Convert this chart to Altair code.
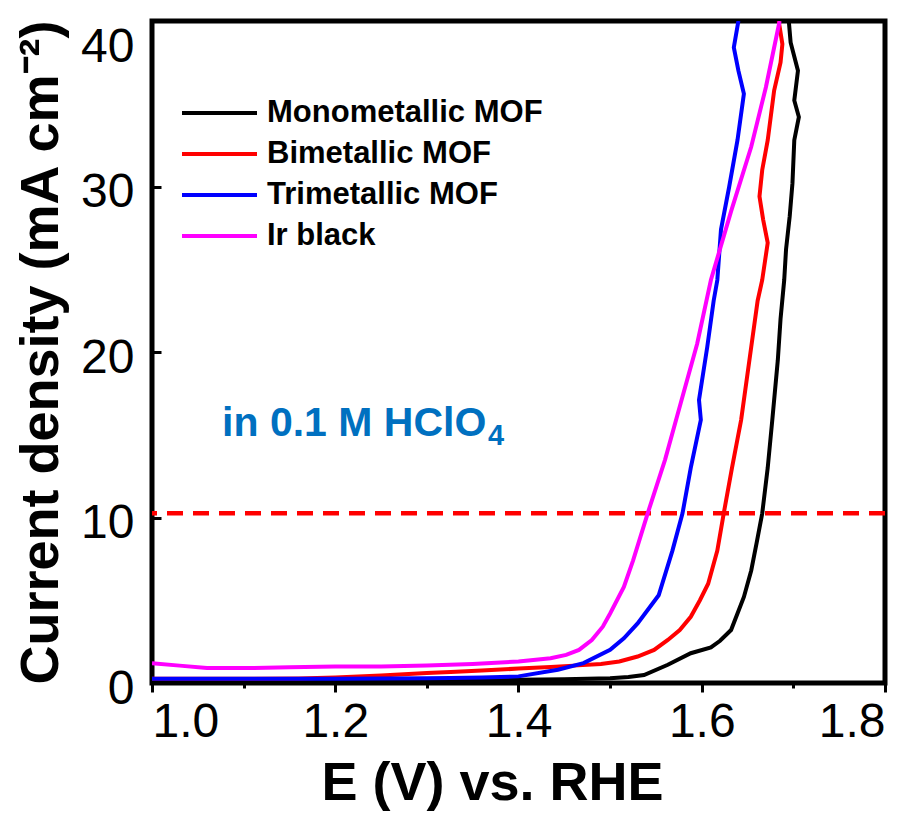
import altair as alt
import pandas as pd

# Linear sweep voltammetry (OER) in 0.1 M HClO4: potential (V vs. RHE) and current density (mA cm^-2)
mono_E = [1.00, 1.10, 1.20, 1.30, 1.40, 1.45, 1.50, 1.52, 1.537, 1.563, 1.588, 1.610, 1.620,
          1.632, 1.639, 1.646, 1.654, 1.660, 1.666, 1.672, 1.677, 1.683, 1.686, 1.690, 1.692,
          1.696, 1.699, 1.701, 1.706, 1.701, 1.705, 1.697, 1.695]
mono_j = [0.20, 0.20, 0.20, 0.20, 0.20, 0.22, 0.28, 0.36, 0.48, 1.10, 1.80, 2.15, 2.55,
          3.20, 4.20, 5.20, 6.80, 8.50, 10.25, 13.0, 15.9, 19.5, 22.0, 24.35, 26.2,
          28.2, 30.2, 32.8, 34.2, 35.2, 37.0, 38.7, 40.0]

bi_E = [1.00, 1.10, 1.16, 1.20, 1.25, 1.30, 1.326, 1.36, 1.40, 1.435, 1.46, 1.49, 1.51, 1.53,
        1.548, 1.563, 1.576, 1.588, 1.598, 1.607, 1.617, 1.624, 1.633, 1.643, 1.654, 1.661,
        1.666, 1.672, 1.667, 1.663, 1.666, 1.672, 1.679, 1.686, 1.688, 1.684]
bi_j = [0.25, 0.25, 0.27, 0.33, 0.45, 0.60, 0.66, 0.76, 0.87, 0.97, 1.05, 1.15, 1.30, 1.60,
        2.00, 2.60, 3.20, 4.00, 5.00, 6.00, 8.00, 10.25, 13.0, 15.9, 20.3, 23.1,
        24.35, 26.6, 28.0, 29.4, 31.0, 32.8, 35.8, 37.5, 38.6, 40.0]

tri_E = [1.00, 1.10, 1.20, 1.30, 1.326, 1.36, 1.40, 1.443, 1.471, 1.50, 1.515, 1.530, 1.553,
         1.568, 1.579, 1.588, 1.599, 1.597, 1.606, 1.613, 1.617, 1.621, 1.630, 1.639, 1.646,
         1.640, 1.635, 1.640]
tri_j = [0.25, 0.25, 0.25, 0.28, 0.30, 0.33, 0.40, 0.80, 1.20, 2.00, 2.70, 3.60, 5.30,
         8.00, 10.25, 13.0, 15.9, 17.1, 20.3, 23.1, 24.35, 27.4, 30.0, 32.8, 35.6,
         37.0, 38.4, 40.0]

ir_E = [1.00, 1.03, 1.06, 1.10, 1.15, 1.20, 1.25, 1.30, 1.35, 1.40, 1.435, 1.452, 1.466,
        1.48, 1.492, 1.50, 1.515, 1.525, 1.541, 1.56, 1.577, 1.595, 1.610, 1.632, 1.654, 1.670, 1.685]
ir_j = [1.20, 1.05, 0.90, 0.90, 0.95, 1.00, 1.00, 1.05, 1.15, 1.30, 1.50, 1.70, 2.00,
        2.60, 3.40, 4.20, 5.80, 7.40, 10.25, 13.5, 16.9, 20.5, 24.35, 28.5, 32.4, 36.0, 40.0]

series_names = ["Monometallic MOF", "Bimetallic MOF", "Trimetallic MOF", "Ir black"]
series_colors = ["#000000", "#FF0000", "#0000FF", "#FF00FF"]
series_data = [(mono_E, mono_j), (bi_E, bi_j), (tri_E, tri_j), (ir_E, ir_j)]

x_ticks = [1.0, 1.1, 1.2, 1.3, 1.4, 1.5, 1.6, 1.7, 1.8]
y_ticks = [0, 10, 20, 30, 40]
ref_current = 10.25          # dashed benchmark line (10 mA cm^-2)
note_main = "in 0.1 M HClO"
note_sub = "4"
note_pos = (1.0765, 14.9)

rows = []
for name, (es, js) in zip(series_names, series_data):
    for i, (e, j) in enumerate(zip(es, js)):
        rows.append({"series": name, "E": e, "j": j, "idx": i})
df = pd.DataFrame(rows)

FONT = "Liberation Sans"
NOTE_COLOR = "#0070C0"
major = "round(datum.value * 10) % 2 == 0"
is_top = "datum.value == 40"

x_enc = alt.X(
    "E:Q",
    scale=alt.Scale(domain=[1.0, 1.8], nice=False, zero=False),
    axis=alt.Axis(
        title="E (V) vs. RHE",
        values=x_ticks,
        labelExpr=f"({major}) ? format(datum.value, '.1f') : ''",
        tickSize={"condition": {"test": major, "value": 9}, "value": 5},
        tickWidth=3, tickColor="black", domain=False, grid=False,
        labelFont=FONT, labelFontSize=48, labelColor="black", labelPadding=6,
        titleFont=FONT, titleFontSize=54, titleFontWeight="bold", titleColor="black",
        titlePadding=10, titleX=340, titleAlign="center",
    ),
)
y_enc = alt.Y(
    "j:Q",
    scale=alt.Scale(domain=[0, 40], nice=False),
    axis=alt.Axis(
        title="Current density (mA cm⁻²)",
        values=y_ticks, format="d",
        offset=-9, tickSize=9, tickWidth=3, tickColor="black",
        domain=False, grid=False,
        labelFont=FONT, labelFontSize=48, labelColor="black", labelPadding=18,
        labelBaseline={"condition": {"test": is_top, "value": "top"}, "value": "middle"},
        labelOffset={"condition": {"test": is_top, "value": 2}, "value": 6},
        titleFont=FONT, titleFontSize=54, titleFontWeight="bold", titleColor="black",
        titlePadding=12,
    ),
)

lines = alt.Chart(df).mark_line(strokeWidth=4, clip=True).encode(
    x=x_enc,
    y=y_enc,
    color=alt.Color(
        "series:N",
        scale=alt.Scale(domain=series_names, range=series_colors),
        legend=alt.Legend(
            title=None, orient="none", legendX=28, legendY=77,
            symbolType="stroke", symbolSize=5625, symbolStrokeWidth=4,
            labelFont=FONT, labelFontSize=31, labelFontWeight="bold",
            labelColor="black", labelOffset=8, labelLimit=500,
            clipHeight=30, rowPadding=10, padding=0,
        ),
    ),
    order=alt.Order("idx:Q"),
    detail="series:N",
)

ref_line = alt.Chart(pd.DataFrame({"j": [ref_current]})).mark_rule(
    color="#FF0000", strokeWidth=4.5, strokeDash=[16, 10]
).encode(y="j:Q")

note_df = pd.DataFrame({"E": [note_pos[0]], "j": [note_pos[1]],
                        "t": [note_main], "s": [note_sub]})
note = alt.Chart(note_df).mark_text(
    align="left", baseline="alphabetic", font=FONT, fontSize=41, fontWeight="bold",
    color=NOTE_COLOR
).encode(x="E:Q", y="j:Q", text="t:N")
# subscript digit of the formula, set smaller and lowered after the main text
note_subscript = alt.Chart(note_df).mark_text(
    align="left", baseline="alphabetic", font=FONT, fontSize=29, fontWeight="bold",
    color=NOTE_COLOR, dx=266, dy=9
).encode(x="E:Q", y="j:Q", text="s:N")

chart = alt.layer(ref_line, lines, note, note_subscript).properties(
    width=733, height=662,
    autosize=alt.AutoSizeParams(type="none"),
    padding={"left": 152, "top": 21, "right": 37, "bottom": 131},
).configure(
    background="white",
    view=alt.ViewConfig(stroke="black", strokeWidth=5),
)

chart.save("out.html", embed_options={"renderer": "svg", "actions": False})
